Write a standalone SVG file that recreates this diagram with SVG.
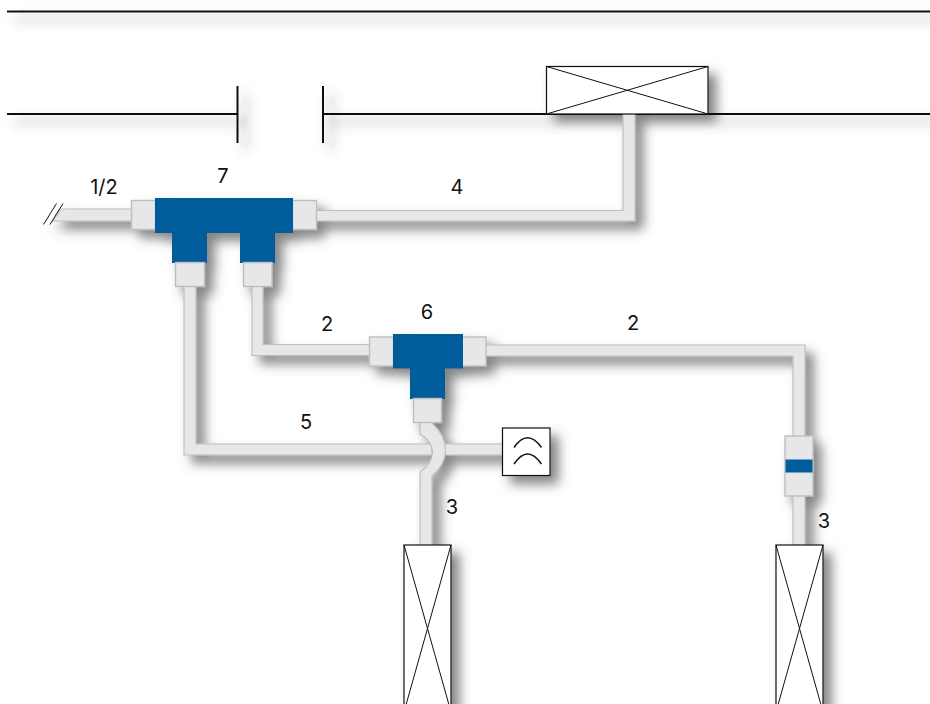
<svg xmlns="http://www.w3.org/2000/svg" width="930" height="704" viewBox="0 0 930 704">
<style>
.ln{fill:none;stroke:#111;stroke-width:2}
.thin{fill:none;stroke:#111;stroke-width:1}
.arc{fill:none;stroke:#111;stroke-width:1.4}
.box{fill:#fff;stroke:#111;stroke-width:1.2}
.pipe{fill:#e6e7e9;stroke:#bcbec0;stroke-width:1.2}
.fit{fill:#e6e7e9;stroke:#bcbec0;stroke-width:1.4}
.blue{fill:#005b9a}
text{font-family:"Inter","Liberation Sans",sans-serif;font-size:20px;fill:#111;text-anchor:middle}
</style>
<defs>
<filter id="sh" x="-5%" y="-5%" width="110%" height="110%">
<feDropShadow dx="8" dy="8" stdDeviation="6" flood-color="#4a4a4a" flood-opacity="0.68"/>
</filter>
</defs>
<g filter="url(#sh)">
<g id="connectors">
<path class="ln" d="M7 11.500H930"/>
<path class="ln" d="M7 114H237M323 114H930"/>
<path class="ln" d="M237.500 86V143M323 86V143"/>
<path class="pipe" d="M623 114H635V221H316V210.500H623Z"/>
<path class="pipe" d="M61 209H132V221H53Z"/>
<path class="thin" d="M43.500 224.500L56.500 203.500M50 224.500L63 203.500"/>
<path class="pipe" d="M252 286H263V344.500H370V355.500H252Z"/>
<path class="pipe" d="M485 345H805V437H793V356H485Z"/>
<path class="pipe" d="M793 495H805V546H793Z"/>
<path class="pipe" d="M184 286H196V444H432V455H184Z"/>
<path class="pipe" d="M441 444H503V455H441Z"/>
<path class="pipe" d="M420 421H432V423Q446 436 445.500 451Q445 465 432 476V546H420V472Q432 464 432.500 452Q432 441 420 434Z"/>
</g>
<g id="node-box-top"><rect class="box" x="546.500" y="66.500" width="161.500" height="47.500"/><path class="thin" d="M546.500 66.500L708 114M708 66.500L546.500 114"/></g>
<g id="node-7">
<rect class="fit" x="131.500" y="200.500" width="24" height="29"/>
<rect class="fit" x="292.500" y="200.500" width="24" height="29"/>
<path class="blue" d="M155 198H293V233H275V263H240V233H207V263H172V233H155Z"/>
<rect class="fit" x="175.500" y="262.500" width="29" height="24"/>
<rect class="fit" x="243.500" y="262.500" width="28.500" height="24"/>
</g>
<g id="node-6">
<rect class="fit" x="369.500" y="337" width="24" height="29"/>
<rect class="fit" x="462" y="337" width="24" height="29"/>
<path class="blue" d="M393 334H463V368.500H445V399H410V368.500H393Z"/>
<rect class="fit" x="413.500" y="398.500" width="28" height="24"/>
</g>
<g id="node-damper">
<rect class="fit" x="785" y="436" width="28" height="60"/>
<rect x="785.500" y="459.500" width="27" height="13" fill="#005b9a"/>
</g>
<g id="node-sensor">
<rect class="box" x="502.500" y="428" width="47.500" height="47.500"/>
<path class="arc" d="M514 447.500Q527.500 428 541.500 447.500M514 464Q527.500 444 541.500 464"/>
</g>
<g id="node-box-left"><rect class="box" x="404" y="545" width="47" height="170"/><path class="thin" d="M404 545L451 712M451 545L404 712"/></g>
<g id="node-box-right"><rect class="box" x="776" y="545" width="47" height="170"/><path class="thin" d="M776 545L823 712M823 545L776 712"/></g>
</g>
<g id="labels">
<text x="104" y="194">1/2</text>
<text x="223" y="183">7</text>
<text x="457" y="194">4</text>
<text x="327" y="331">2</text>
<text x="427" y="319">6</text>
<text x="633" y="330">2</text>
<text x="306" y="429">5</text>
<text x="452" y="514">3</text>
<text x="824" y="528">3</text>
</g>
</svg>
